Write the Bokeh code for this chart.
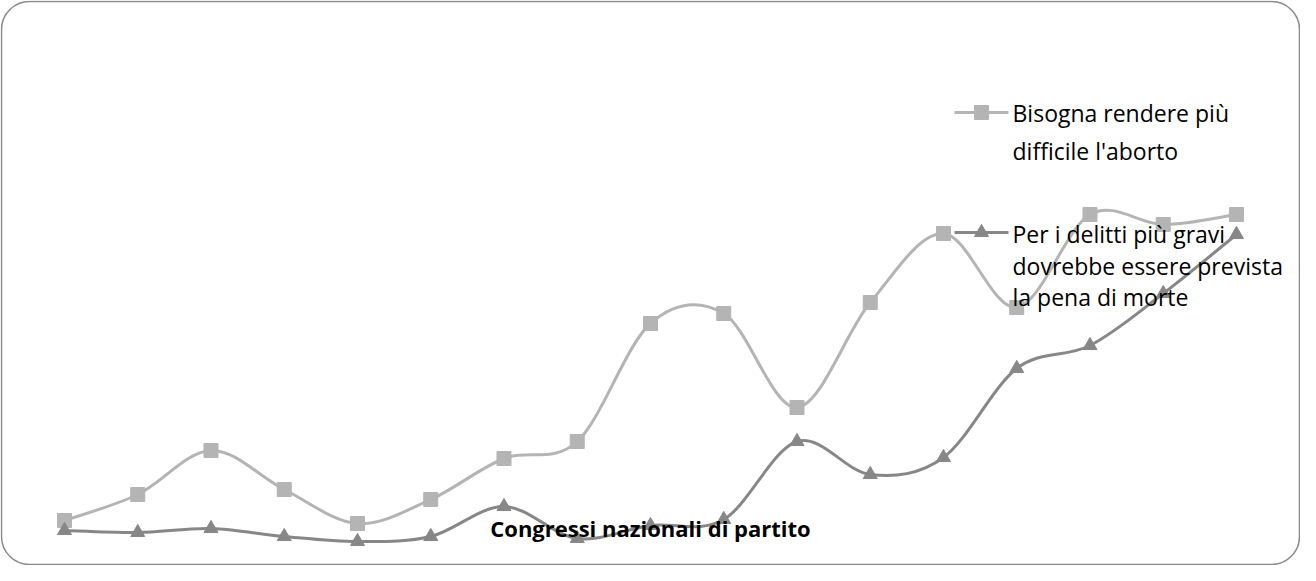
from bokeh.plotting import figure
from bokeh.models import Range1d, BoxAnnotation, Label
from bokeh.embed import file_html
from bokeh.resources import INLINE
from bokeh.core.properties import value

# ---------------- data ----------------
congressi = list(range(1, 18))
aborto = [3.2, 5.8, 10.2, 6.3, 2.9, 5.3, 9.4, 11.1, 22.9, 23.9, 14.5, 25.0,
          31.9, 24.5, 33.8, 32.8, 33.8]
pena_morte = [2.2, 2.0, 2.4, 1.6, 1.1, 1.6, 4.6, 1.4, 2.7, 3.3, 11.1, 7.8,
              9.5, 18.4, 20.7, 25.9, 31.8]
series_labels = [
    ["Bisogna rendere più", "difficile l'aborto"],
    ["Per i delitti più gravi", "dovrebbe essere prevista", "la pena di morte"],
]
axis_title = "Congressi nazionali di partito"

# ---------------- styling ----------------
C_ABORTO = "#b4b4b4"
C_PENA = "#878787"
FONT = "Open Sans"

W, H = 1300, 565
X0, X1 = 0.1263, 17.874
Y0, Y1 = -1.3, 55.2


def px2x(px):
    return X0 + (px - 8) / W * (X1 - X0)


def py2y(py):
    return Y1 - (py - 8) / H * (Y1 - Y0)


p = figure(width=W, height=H, output_backend="svg", toolbar_location=None,
           x_axis_type=None, y_axis_type=None, min_border=0,
           x_range=Range1d(X0, X1), y_range=Range1d(Y0, Y1))
p.grid.visible = False
p.outline_line_color = None
p.background_fill_color = "white"
p.border_fill_color = "white"

# rounded chart border
p.add_layout(BoxAnnotation(left=px2x(9), right=px2x(1307),
                           top=py2y(9), bottom=py2y(572),
                           fill_color=None, fill_alpha=0,
                           line_color="#8a8a8a", line_alpha=1.0,
                           line_width=1.5, border_radius=28, level="underlay"))


def smooth(xs, ys):
    n = len(xs)
    out = dict(x0=[], y0=[], x1=[], y1=[], cx0=[], cy0=[], cx1=[], cy1=[])
    for i in range(n - 1):
        im1 = max(i - 1, 0)
        ip2 = min(i + 2, n - 1)
        out["x0"].append(xs[i]); out["y0"].append(ys[i])
        out["x1"].append(xs[i + 1]); out["y1"].append(ys[i + 1])
        out["cx0"].append(xs[i] + (xs[i + 1] - xs[im1]) / 6)
        out["cy0"].append(ys[i] + (ys[i + 1] - ys[im1]) / 6)
        out["cx1"].append(xs[i + 1] - (xs[ip2] - xs[i]) / 6)
        out["cy1"].append(ys[i + 1] - (ys[ip2] - ys[i]) / 6)
    return out


for ys, col in ((aborto, C_ABORTO), (pena_morte, C_PENA)):
    s = smooth(congressi, ys)
    p.bezier(x0=s["x0"], y0=s["y0"], x1=s["x1"], y1=s["y1"],
             cx0=s["cx0"], cy0=s["cy0"], cx1=s["cx1"], cy1=s["cy1"],
             line_color=col, line_width=3)

p.scatter(congressi, aborto, marker="square", size=14,
          fill_color=C_ABORTO, line_color=C_ABORTO)
p.scatter(congressi, pena_morte, marker="triangle", size=14,
          fill_color=C_PENA, line_color=C_PENA)

# ---------------- legend (manual, glyph aligned with first line) ----------------
leg_rows = [(120, [120, 158], C_ABORTO, "square"),
            (240, [241, 273, 304], C_PENA, "triangle")]
for (gy, centers, col, mk), lines in zip(leg_rows, series_labels):
    p.line([px2x(962), px2x(1016)], [py2y(gy), py2y(gy)], line_color=col,
           line_width=3)
    p.scatter([px2x(989)], [py2y(gy)], marker=mk, size=14,
              fill_color=col, line_color=col)
    p.text(x=[px2x(1020)] * len(lines), y=[py2y(c) for c in centers],
           text=lines, text_font=value(FONT), text_font_size="23px",
           text_color="#000000", text_baseline="middle", text_align="left")

# axis title (drawn inside the plot area, on top of the lines)
p.add_layout(Label(x=(congressi[0] + congressi[-1]) / 2, y=py2y(535),
                   text=axis_title, text_align="center",
                   text_baseline="middle", text_font=FONT,
                   text_font_style="bold", text_font_size="22px",
                   text_color="#000000"))

open("out.html", "w").write(file_html(p, INLINE))
